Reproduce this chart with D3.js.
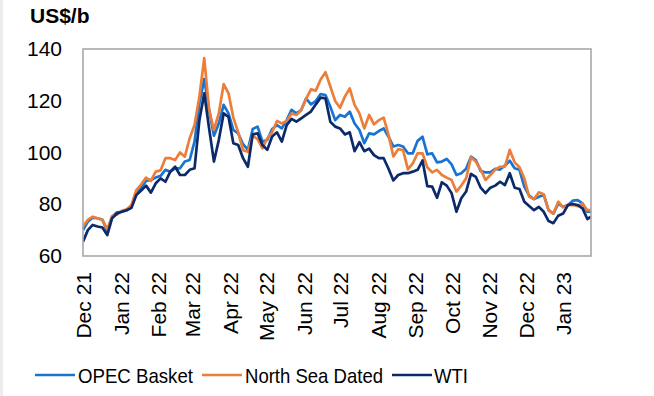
<!DOCTYPE html>
<html>
<head>
<meta charset="utf-8">
<script src="https://cdn.jsdelivr.net/npm/d3@7"></script>
<style>
  body { margin: 0; background: #fff; }
  svg { display: block; font-family: Arial, "Liberation Sans", sans-serif; }
</style>
</head>
<body>
<svg id="chart" width="654" height="396"></svg>
<script>
// sample dates (every ~4 days)
const dates = [
  "2021-12-01","2021-12-05","2021-12-09","2021-12-13","2021-12-17","2021-12-21","2021-12-25","2021-12-29",
  "2022-01-02","2022-01-06","2022-01-10","2022-01-14","2022-01-18","2022-01-22","2022-01-26","2022-01-30",
  "2022-02-03","2022-02-07","2022-02-11","2022-02-15","2022-02-19","2022-02-23","2022-02-27",
  "2022-03-03","2022-03-07","2022-03-11","2022-03-15","2022-03-19","2022-03-23","2022-03-27","2022-03-31",
  "2022-04-04","2022-04-08","2022-04-12","2022-04-16","2022-04-20","2022-04-24","2022-04-28",
  "2022-05-02","2022-05-06","2022-05-10","2022-05-14","2022-05-18","2022-05-22","2022-05-26","2022-05-30",
  "2022-06-03","2022-06-07","2022-06-11","2022-06-15","2022-06-19","2022-06-23","2022-06-27",
  "2022-07-01","2022-07-05","2022-07-09","2022-07-13","2022-07-17","2022-07-21","2022-07-25","2022-07-29",
  "2022-08-02","2022-08-06","2022-08-10","2022-08-14","2022-08-18","2022-08-22","2022-08-26","2022-08-30",
  "2022-09-03","2022-09-07","2022-09-11","2022-09-15","2022-09-19","2022-09-23","2022-09-27",
  "2022-10-01","2022-10-05","2022-10-09","2022-10-13","2022-10-17","2022-10-21","2022-10-25","2022-10-29",
  "2022-11-02","2022-11-06","2022-11-10","2022-11-14","2022-11-18","2022-11-22","2022-11-26","2022-11-30",
  "2022-12-04","2022-12-08","2022-12-12","2022-12-16","2022-12-20","2022-12-24","2022-12-28",
  "2023-01-01","2023-01-05","2023-01-09","2023-01-13","2023-01-17","2023-01-21","2023-01-24"
];

const opecBasket = [
  70.0,73.3,74.8,74.6,74.0,69.7,75.2,76.9,
  77.1,77.7,79.4,84.3,86.4,89.0,89.4,90.3,
  91.0,93.3,92.6,93.9,93.9,96.5,97.1,
  104.2,119.0,128.4,116.5,106.5,111.2,118.4,115.1,
  108.7,107.4,103.2,101.0,109.1,110.0,104.2,
  104.8,109.1,110.6,109.3,112.5,116.5,115.1,116.4,
  120.9,118.6,119.9,122.6,122.2,117.7,112.5,
  114.5,113.8,115.8,111.2,108.7,103.6,107.4,107.0,
  108.3,109.3,106.1,102.3,102.9,102.3,99.7,99.7,
  104.5,106.1,99.3,99.7,96.2,96.5,97.5,
  95.4,91.3,92.0,93.7,98.4,97.1,92.9,92.3,
  92.3,93.7,93.4,95.0,96.8,93.9,93.3,86.8,
  83.3,82.0,82.9,83.6,77.7,76.4,80.2,
  79.0,79.7,81.4,81.6,80.3,77.1,77.1
];

const northSeaDated = [
  71.4,74.0,75.2,74.6,74.0,70.3,75.4,76.0,
  77.5,78.1,79.7,85.5,87.7,90.3,89.0,92.6,
  93.1,97.8,97.8,97.1,100.0,98.4,105.5,
  110.6,121.6,136.5,116.5,108.7,115.1,126.4,122.9,
  113.5,107.8,100.9,100.3,106.5,105.2,101.6,
  105.5,107.8,112.2,111.2,112.2,115.1,114.5,116.4,
  120.7,124.4,123.9,128.2,131.0,125.5,119.9,
  117.3,121.6,124.8,118.4,115.1,109.3,114.5,110.9,
  112.5,113.5,106.8,98.5,101.3,100.9,93.5,95.8,
  99.7,99.7,94.3,92.3,93.3,91.3,90.3,
  89.4,84.9,87.2,90.0,98.1,96.5,93.4,89.4,
  91.3,93.4,94.5,94.5,101.0,96.2,94.3,90.0,
  82.9,82.0,84.6,83.9,77.7,76.4,81.0,
  78.8,79.7,79.7,79.3,80.3,77.7,77.7
];

const wti = [
  65.5,70.0,72.0,71.4,71.0,68.1,74.6,76.4,
  77.1,77.7,78.6,83.6,85.3,87.2,84.5,88.1,
  90.0,88.7,92.6,94.5,91.3,91.3,93.3,
  93.9,112.5,122.9,109.3,96.5,104.8,115.1,113.8,
  103.6,102.9,97.8,94.5,107.0,107.4,102.9,
  101.0,106.2,107.8,104.2,110.6,113.0,111.9,113.2,
  114.5,115.8,118.6,121.2,120.9,111.9,110.0,
  109.3,107.0,107.8,100.5,104.0,100.5,101.5,99.0,
  97.8,97.8,93.7,89.2,91.3,92.0,92.0,92.6,
  93.3,96.9,87.0,86.8,82.5,88.5,87.2,
  84.3,77.1,82.3,84.9,91.7,90.6,86.4,84.3,
  86.4,87.2,88.7,87.4,92.0,86.4,85.9,81.0,
  79.3,77.7,79.0,77.1,73.5,72.7,75.6,
  76.4,79.7,80.1,79.7,78.4,74.3,75.2
];

const monthTicks = [
  "2021-12-01","2022-01-01","2022-02-01","2022-03-01","2022-04-01","2022-05-01","2022-06-01",
  "2022-07-01","2022-08-01","2022-09-01","2022-10-01","2022-11-01","2022-12-01","2023-01-01"
];
const yTicks = [60, 80, 100, 120, 140];
const seriesNames = ["OPEC Basket", "North Sea Dated", "WTI"];
const seriesColors = ["#1874d2", "#ec7e3a", "#0c2a6a"];

const parse = d3.timeParse("%Y-%m-%d");
const svg = d3.select("#chart");
const margin = { top: 49, right: 63, bottom: 140, left: 83 },
  width = 654 - margin.left - margin.right,
  height = 396 - margin.top - margin.bottom;

// light strip on the left edge of the picture
svg.append("rect").attr("x", 0).attr("y", 0).attr("width", 3).attr("height", 396).attr("fill", "#ececec");

const x = d3.scaleTime()
  .domain([parse("2021-12-01"), parse("2023-01-24")])
  .range([0, width]);
const y = d3.scaleLinear().domain([60, 140]).range([height, 0]);

const g = svg.append("g").attr("transform", `translate(${margin.left},${margin.top})`);

svg.append("text")
  .attr("x", 30).attr("y", 23)
  .attr("font-size", 21).attr("font-weight", "bold").attr("fill", "#000")
  .text("US$/b");

// y axis
const yAxis = g.append("g")
  .call(d3.axisLeft(y).tickValues(yTicks).tickSize(0).tickPadding(21));
yAxis.select(".domain").remove();
yAxis.selectAll("text").attr("font-size", 21).attr("fill", "#000").attr("font-family", null);

// x axis
const xAxis = g.append("g")
  .attr("transform", `translate(0,${height})`)
  .call(d3.axisBottom(x).tickValues(monthTicks.map(parse)).tickSize(0).tickFormat(d3.timeFormat("%b %y")));
xAxis.select(".domain").remove();
xAxis.selectAll("text")
  .attr("font-size", 21).attr("fill", "#000").attr("font-family", null)
  .attr("transform", "rotate(-90)")
  .attr("x", -16).attr("y", 0).attr("dy", "0.36em")
  .attr("text-anchor", "end");

const seriesData = [opecBasket, northSeaDated, wti];
const line = d3.line()
  .x((d, i) => x(parse(dates[i])))
  .y(d => y(d));

g.append("defs").append("clipPath").attr("id", "plotclip")
  .append("rect").attr("width", width).attr("height", height);

seriesData.forEach((vals, k) => {
  g.append("path")
    .datum(vals)
    .attr("clip-path", "url(#plotclip)")
    .attr("fill", "none")
    .attr("stroke", seriesColors[k])
    .attr("stroke-width", 2.7)
    .attr("stroke-linejoin", "round")
    .attr("d", line);
});

// plot frame
g.append("rect")
  .attr("width", width).attr("height", height)
  .attr("fill", "none").attr("stroke", "#a8a8a8").attr("stroke-width", 1.6);

// legend
const legendItems = [
  { x: 35, textX: 78, textW: 115 },
  { x: 202, textX: 245, textW: 138 },
  { x: 392, textX: 434, textW: 34 }
];
const legend = svg.append("g");
legendItems.forEach((it, k) => {
  legend.append("line")
    .attr("x1", it.x).attr("x2", it.x + 40)
    .attr("y1", 375).attr("y2", 375)
    .attr("stroke", seriesColors[k]).attr("stroke-width", 2.4);
  legend.append("text")
    .attr("x", it.textX).attr("y", 383)
    .attr("font-size", 21).attr("fill", "#000")
    .attr("textLength", it.textW).attr("lengthAdjust", "spacingAndGlyphs")
    .text(seriesNames[k]);
});
</script>
</body>
</html>
